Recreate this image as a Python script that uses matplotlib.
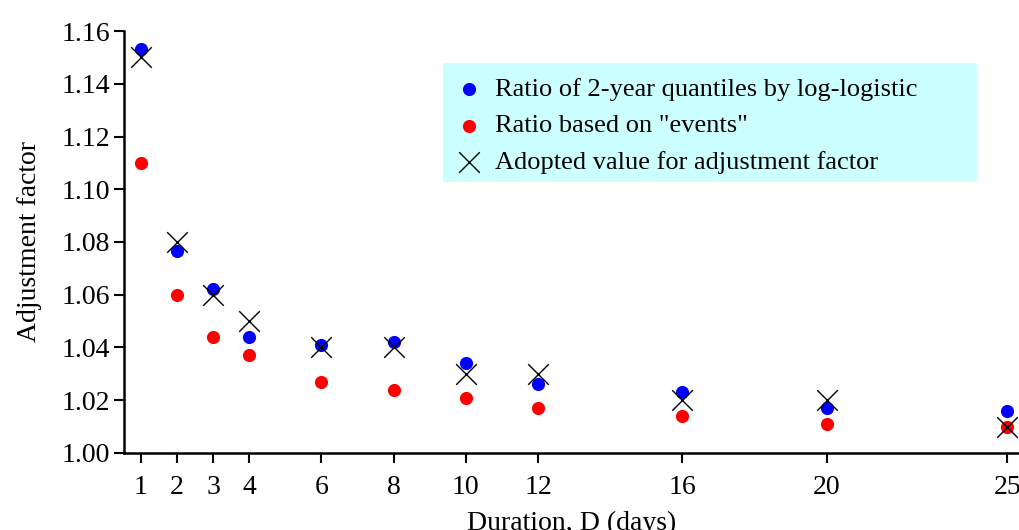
import matplotlib

matplotlib.use("Agg")
import matplotlib.pyplot as plt
from matplotlib.patches import Rectangle

plt.rcParams["font.family"] = ["Liberation Serif", "DejaVu Serif"]

durations = [1, 2, 3, 4, 6, 8, 10, 12, 16, 20, 25]
ratio_loglogistic = [1.153, 1.0765, 1.062, 1.044, 1.041, 1.042, 1.034, 1.026, 1.023, 1.017, 1.016]
ratio_events = [1.110, 1.060, 1.044, 1.037, 1.027, 1.024, 1.021, 1.017, 1.014, 1.011, 1.010]
adopted = [1.15, 1.08, 1.06, 1.05, 1.04, 1.04, 1.03, 1.03, 1.02, 1.02, 1.01]
y_ticks = [1.00, 1.02, 1.04, 1.06, 1.08, 1.10, 1.12, 1.14, 1.16]

fig = plt.figure(figsize=(10.2, 5.3), dpi=100)
ax = fig.add_axes([0.1216, 0.1453, 0.8784, 0.7962])

ax.scatter(durations, ratio_loglogistic, s=90, color="#0000ff", marker="o",
           linewidths=0, zorder=3, label="Ratio of 2-year quantiles by log-logistic")
ax.scatter(durations, ratio_events, s=90, color="#ff0000", marker="o",
           linewidths=0, zorder=3, label='Ratio based on "events"')
ax.scatter(durations, adopted, s=220, color="black", marker="x",
           linewidths=1.0, zorder=4, label="Adopted value for adjustment factor")

ax.set_xlim(0.53, 25.35)
ax.set_ylim(1.00, 1.16)
ax.set_xticks(durations)
ax.set_xticklabels([str(d) for d in durations])
ax.set_yticks(y_ticks)
ax.set_yticklabels([f"{v:.2f}" for v in y_ticks])

for side in ("top", "right"):
    ax.spines[side].set_visible(False)
for side in ("left", "bottom"):
    ax.spines[side].set_linewidth(1.8)
ax.tick_params(axis="both", direction="out", length=7, width=1.5, labelsize=20)
ax.tick_params(axis="x", pad=9)
ax.tick_params(axis="y", pad=3)

ax.set_ylabel("Adjustment factor", fontsize=20, labelpad=14)
ax.set_xlabel("Duration, D (days)", fontsize=20, labelpad=8)

# legend background box, wider than the legend text
ax.add_patch(Rectangle((0.356, 0.642), 0.596, 0.282, transform=ax.transAxes,
                       facecolor="#ccffff", edgecolor="none", zorder=2))

leg = ax.legend(loc="upper left", bbox_to_anchor=(0.358, 0.909), fontsize=19,
                frameon=False, handletextpad=0.4, borderpad=0.3, borderaxespad=0,
                labelspacing=0.5, scatterpoints=1, handlelength=1.2)

fig.savefig("out.png", dpi=100)
